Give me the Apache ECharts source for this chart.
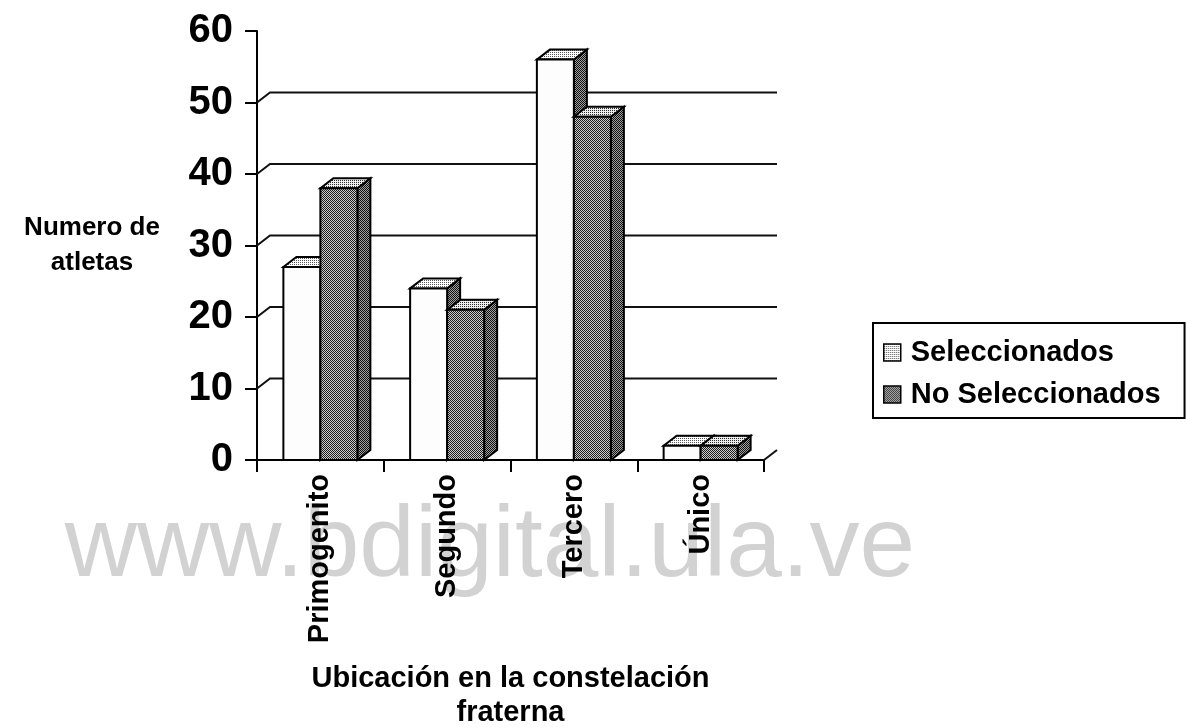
<!DOCTYPE html>
<html>
<head>
<meta charset="utf-8">
<script src="https://cdn.jsdelivr.net/npm/echarts@6/dist/echarts.min.js"></script>
<style>
  html, body { margin: 0; padding: 0; background: #fff; }
  #main { width: 1187px; height: 728px; }
</style>
</head>
<body>
<div id="main"></div>
<script>
// datos
var categorias = ['Primogenito', 'Segundo', 'Tercero', 'Único'];
var seleccionados = [27, 24, 56, 2];
var noSeleccionados = [38, 21, 48, 2];
var yTicks = [0, 10, 20, 30, 40, 50];
var nombres = ['Seleccionados', 'No Seleccionados'];

var FONT = "Arial, 'Liberation Sans', sans-serif";
var BAR_W = 37;   // ancho de cada barra
var DX = 13, DY = 10;   // profundidad 3D

// tramas tipo "punteado" como en la impresion
function trama(fondo, punto, paso) {
    var c = document.createElement('canvas');
    c.width = paso; c.height = paso;
    var ctx = c.getContext('2d');
    ctx.fillStyle = fondo;
    ctx.fillRect(0, 0, paso, paso);
    ctx.fillStyle = punto;
    for (var i = 0; i < paso; i++) {
        for (var j = 0; j < paso; j++) {
            if ((i + j) % 2 === 0 && (paso < 4 || (i % 2 === 0))) ctx.fillRect(i, j, 1, 1);
        }
    }
    return { image: c, repeat: 'repeat' };
}
var grisFrente = trama('#cccccc', '#1c1c1c', 2);
var grisLado = trama('#a0a0a0', '#101010', 2);
var grisArriba = trama('#eeeeee', '#2a2a2a', 4);
var blancoFrente = '#fdfdfd';
var blancoArriba = trama('#ffffff', '#555555', 4);

function barra3d(desplaza, frente, arriba, lado) {
    return function (params, api) {
        var ci = api.value(0), v = api.value(1);
        var base = api.coord([ci, 0]);
        var top = api.coord([ci, v]);
        var x0 = base[0] + desplaza, x1 = x0 + BAR_W;
        var y0 = top[1], yb = base[1];
        var borde = { stroke: '#000', lineWidth: 2, lineJoin: 'miter' };
        return {
            type: 'group',
            children: [
                { type: 'polygon', shape: { points: [[x1, y0], [x1 + DX, y0 - DY], [x1 + DX, yb - DY], [x1, yb]] },
                  style: Object.assign({ fill: lado }, borde) },
                { type: 'polygon', shape: { points: [[x0, y0], [x0 + DX, y0 - DY], [x1 + DX, y0 - DY], [x1, y0]] },
                  style: Object.assign({ fill: arriba }, borde) },
                { type: 'rect', shape: { x: x0, y: y0, width: BAR_W, height: yb - y0 },
                  style: Object.assign({ fill: frente }, borde) }
            ]
        };
    };
}

// pared del fondo: lineas de la cuadricula desplazadas
function paredFondo(params, api) {
    var cs = params.coordSys;
    var v = api.value(1);
    var y = api.coord([0, v])[1];
    var izq = cs.x, der = cs.x + cs.width;
    var puntos = v === 0
        ? [[der, y], [der + DX, y - DY]]
        : [[izq, y], [izq + DX, y - DY], [der + DX, y - DY]];
    return {
        type: 'polyline',
        shape: { points: puntos },
        style: { stroke: '#111', lineWidth: 2, fill: null }
    };
}

var chart = echarts.init(document.getElementById('main'));
var option = {
    backgroundColor: '#fff',
    animation: false,
    grid: { left: 257, right: 423, top: 31, bottom: 268, containLabel: false, outerBoundsMode: 'none' },
    legend: {
        orient: 'vertical',
        left: 873, top: 323,
        padding: [15, 24, 9, 10],
        itemGap: 13,
        itemWidth: 17, itemHeight: 17,
        borderColor: '#000', borderWidth: 2,
        textStyle: { color: '#000', fontFamily: FONT, fontWeight: 'bold', fontSize: 29, padding: [0, 0, 0, 5] },
        data: [
            { name: nombres[0], icon: 'rect', itemStyle: { color: blancoArriba, borderColor: '#000', borderWidth: 1.5 } },
            { name: nombres[1], icon: 'rect', itemStyle: { color: grisFrente, borderColor: '#000', borderWidth: 1.5 } }
        ]
    },
    xAxis: {
        type: 'category',
        data: categorias,
        name: 'Ubicación en la constelación\nfraterna',
        nameLocation: 'middle',
        nameGap: 202,
        nameTextStyle: { color: '#000', fontFamily: FONT, fontWeight: 'bold', fontSize: 29, lineHeight: 34 },
        axisLine: { lineStyle: { color: '#000', width: 2 } },
        axisTick: { show: true, length: 12, lineStyle: { color: '#000', width: 2 } },
        axisLabel: { rotate: 90, margin: 14, color: '#000', fontFamily: FONT, fontWeight: 'bold', fontSize: 29 },
        splitLine: { show: false }
    },
    yAxis: {
        type: 'value',
        min: 0, max: 60, interval: 10,
        axisLine: { show: true, lineStyle: { color: '#000', width: 2 } },
        axisTick: { show: true, length: 12, lineStyle: { color: '#000', width: 2 } },
        axisLabel: { margin: 24, color: '#000', fontFamily: FONT, fontWeight: 'bold', fontSize: 40 },
        splitLine: { show: false }
    },
    graphic: [
        { type: 'text', x: 490, y: 548, z: -10, silent: true,
          style: { text: 'www.bdigital.ula.ve', fill: '#d2d2d2', font: '100px ' + FONT,
                   textAlign: 'center', textVerticalAlign: 'middle' } },
        { type: 'text', x: 92, y: 245, z: 10,
          style: { text: 'Numero de\natletas', fill: '#000', font: 'bold 26px ' + FONT, lineHeight: 35,
                   textAlign: 'center', textVerticalAlign: 'middle' } }
    ],
    series: [
        {
            name: 'fondo', type: 'custom', z: 1, silent: true,
            renderItem: paredFondo,
            encode: { x: 0, y: 1 },
            data: yTicks.map(function (t) { return [0, t]; })
        },
        {
            name: nombres[0], type: 'custom', z: 2,
            renderItem: barra3d(-BAR_W, blancoFrente, blancoArriba, grisLado),
            encode: { x: 0, y: 1 },
            itemStyle: { color: '#fff' },
            data: categorias.map(function (c, i) { return [i, seleccionados[i]]; })
        },
        {
            name: nombres[1], type: 'custom', z: 2,
            renderItem: barra3d(0, grisFrente, grisArriba, grisLado),
            encode: { x: 0, y: 1 },
            itemStyle: { color: '#888' },
            data: categorias.map(function (c, i) { return [i, noSeleccionados[i]]; })
        }
    ]
};
chart.setOption(option);
</script>
</body>
</html>
